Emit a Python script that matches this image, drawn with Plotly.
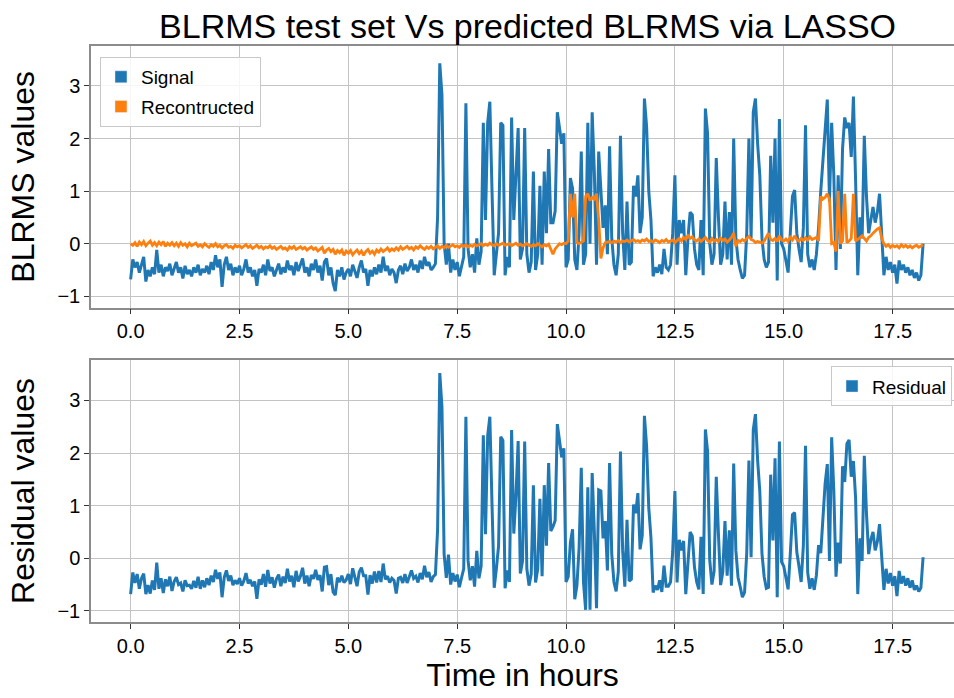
import numpy as np
import plotly.graph_objects as go

# time axis: one sample every 3 minutes (0.05 h)
hours = np.round(np.arange(365) * 0.05, 2)

signal = [
    -0.68, -0.30, -0.45, -0.35, -0.55, -0.40, -0.25, -0.72, -0.50, -0.62, -0.45, -0.58, -0.12, -0.55, -0.40, -0.62, -0.45, -0.52, -0.38, -0.60,
    -0.48, -0.35, -0.55, -0.45, -0.66, -0.42, -0.58, -0.50, -0.62, -0.45, -0.55, -0.40, -0.60, -0.48, -0.55, -0.42, -0.58, -0.35, -0.50, -0.22,
    -0.45, -0.30, -0.82, -0.40, -0.25, -0.50, -0.38, -0.60, -0.45, -0.55, -0.42, -0.60, -0.48, -0.30, -0.55, -0.45, -0.62, -0.50, -0.80, -0.48,
    -0.55, -0.40, -0.60, -0.30, -0.52, -0.45, -0.62, -0.50, -0.38, -0.58, -0.45, -0.55, -0.32, -0.50, -0.42, -0.60, -0.35, -0.52, -0.40, -0.28,
    -0.55, -0.45, -0.62, -0.38, -0.50, -0.30, -0.55, -0.42, -0.70, -0.35, -0.28, -0.60, -0.45, -0.75, -0.90, -0.50, -0.62, -0.45, -0.68, -0.55,
    -0.48, -0.62, -0.40, -0.55, -0.65, -0.45, -0.32, -0.55, -0.48, -0.80, -0.50, -0.62, -0.45, -0.58, -0.40, -0.55, -0.25, -0.52, -0.42, -0.60,
    -0.48, -0.55, -0.75, -0.50, -0.42, -0.58, -0.38, -0.52, -0.45, -0.30, -0.50, -0.40, -0.55, -0.32, -0.48, -0.25, -0.42, -0.35, -0.50, -0.45,
    -0.38, 0.50, 3.43, 2.83, 0.00, -0.40, 0.00, -0.55, -0.30, -0.50, -0.35, -0.62, -0.40, -0.25, 2.67, -0.10, -0.45, -0.20, -0.55, 0.10,
    -0.40, -0.15, 2.30, 0.45, 2.30, 2.70, 1.00, -0.60, -0.20, 0.20, 2.30, 2.25, -0.60, -0.25, -0.45, 2.40, 0.45, 1.20, 2.20, -0.30,
    -0.10, 2.20, -0.20, -0.55, -0.35, 1.37, -0.50, -0.20, 1.10, -0.40, 1.37, 0.20, 1.80, 0.40, 0.40, 0.62, 2.50, 2.20, 1.90, 2.10,
    -0.45, -0.30, 1.25, 1.05, -0.30, -0.50, 0.20, 1.75, -0.40, -0.20, 2.30, 0.00, 2.50, 1.36, -0.40, 1.75, 1.00, 0.30, 0.73, -0.20,
    1.85, 0.10, -0.40, -0.60, -0.20, 2.05, 0.20, -0.50, 0.80, -0.40, -0.35, 1.10, 0.90, 1.30, 0.20, 0.50, 2.76, 2.23, 1.00, 0.45,
    -0.62, -0.45, -0.55, -0.40, -0.58, -0.10, -0.45, -0.50, -0.40, 0.20, 1.30, -0.40, 0.45, 0.20, 0.45, -0.60, 0.10, 0.60, 0.55, -0.10,
    -0.40, -0.50, 0.45, -0.60, 2.57, 2.10, 0.00, -0.40, -0.20, 1.63, 0.50, -0.40, -0.20, 0.80, -0.30, 0.60, -0.40, 2.00, 0.10, -0.30,
    -0.50, -0.66, -0.60, 0.20, 2.00, 0.10, 2.50, 2.76, 1.90, 1.30, 0.10, -0.30, -0.45, -0.35, 1.67, 0.40, 2.00, -0.70, 2.37, 0.00,
    -0.10, -0.30, -0.55, 0.20, 0.90, 1.02, 0.20, -0.10, -0.35, 0.30, 2.25, -0.20, -0.45, -0.30, -0.50, -0.20, 0.30, 1.00, 1.65, 2.30,
    2.74, 0.80, 2.30, 1.30, -0.50, 1.30, -0.10, 1.80, 2.40, 2.20, 2.30, 1.65, 2.80, 1.20, -0.60, 0.50, 0.10, 2.05, 0.90, 0.20,
    0.50, 0.70, 0.40, 0.60, 0.95, 0.20, -0.60, -0.25, -0.50, -0.35, -0.55, -0.40, -0.76, -0.32, -0.50, -0.40, -0.55, -0.45, -0.60, -0.50,
    -0.65, -0.55, -0.70, -0.60, 0.00,
]

reconstructed = [
    0.00, -0.03, 0.02, -0.05, 0.03, -0.02, 0.04, -0.04, 0.01, 0.05, -0.03, 0.02, -0.04, 0.03, -0.02, 0.04, -0.05, 0.01, -0.03, 0.02,
    -0.04, 0.01, -0.05, 0.02, -0.03, 0.00, -0.06, 0.01, -0.04, -0.02, 0.01, -0.05, -0.02, -0.06, 0.00, -0.04, -0.07, -0.02, -0.05, 0.00,
    -0.06, -0.03, -0.08, -0.04, -0.02, -0.07, -0.05, -0.09, -0.03, -0.06, -0.04, -0.08, -0.05, -0.02, -0.07, -0.04, -0.09, -0.06, -0.03, -0.08,
    -0.05, -0.10, -0.06, -0.08, -0.04, -0.09, -0.06, -0.11, -0.07, -0.05, -0.10, -0.08, -0.12, -0.06, -0.09, -0.05, -0.11, -0.08, -0.06, -0.10,
    -0.07, -0.12, -0.09, -0.06, -0.11, -0.08, -0.14, -0.10, -0.07, -0.18, -0.12, -0.09, -0.15, -0.11, -0.20, -0.13, -0.17, -0.12, -0.22, -0.14,
    -0.18, -0.13, -0.21, -0.16, -0.12, -0.19, -0.14, -0.22, -0.15, -0.11, -0.18, -0.14, -0.20, -0.12, -0.16, -0.10, -0.15, -0.12, -0.08, -0.14,
    -0.10, -0.13, -0.08, -0.12, -0.06, -0.11, -0.08, -0.05, -0.10, -0.07, -0.12, -0.06, -0.09, -0.04, -0.08, -0.11, -0.06, -0.09, -0.05, -0.10,
    -0.07, -0.04, -0.09, -0.05, -0.08, -0.03, -0.07, -0.05, -0.02, -0.06, -0.04, -0.07, -0.03, -0.05, -0.02, -0.06, -0.03, -0.05, -0.01, -0.04,
    -0.02, 0.00, -0.04, -0.01, -0.03, 0.01, -0.02, -0.04, 0.00, -0.03, -0.01, 0.01, -0.03, -0.02, 0.00, -0.04, -0.02, 0.01, -0.03, -0.01,
    -0.04, -0.02, 0.00, -0.03, -0.05, -0.02, -0.04, 0.00, -0.03, -0.06, -0.02, -0.04, -0.01, -0.12, -0.20, -0.10, -0.05, 0.00, -0.02, 0.01,
    0.00, 0.05, 0.95, 0.50, 0.95, 0.02, 0.00, 0.03, 0.05, 0.90, 0.95, 0.82, 0.88, 0.85, 0.95, 0.45, -0.28, -0.08, 0.02, 0.03,
    0.04, 0.02, 0.05, 0.03, 0.06, 0.02, 0.05, 0.04, 0.07, 0.03, 0.05, 0.08, 0.04, 0.06, 0.03, 0.07, 0.05, 0.09, 0.04, 0.06,
    0.03, 0.07, 0.05, 0.02, 0.06, 0.04, 0.08, 0.03, 0.05, 0.07, 0.02, 0.06, 0.10, 0.05, 0.12, 0.08, 0.15, 0.10, 0.13, 0.07,
    0.05, 0.09, 0.04, 0.08, 0.12, 0.06, 0.03, 0.10, 0.05, 0.08, 0.04, 0.11, 0.06, 0.09, 0.03, 0.07, 0.12, 0.20, -0.05, 0.06,
    0.04, 0.08, 0.05, 0.10, 0.14, 0.08, 0.06, 0.02, 0.04, 0.03, 0.01, 0.05, 0.12, 0.20, 0.08, 0.06, 0.10, 0.04, 0.15, 0.07,
    0.05, 0.09, 0.04, 0.12, 0.07, 0.15, 0.08, 0.05, 0.10, 0.06, 0.11, 0.07, 0.13, 0.08, 0.10, 0.12, 0.05, 0.90, 0.85, 0.88,
    0.95, 0.85, 0.00, 0.02, -0.15, 1.00, 0.00, 0.05, 0.95, 0.02, 0.05, 0.10, 0.95, 0.05, 0.08, 0.12, 0.15, 0.10, 0.05, 0.12,
    0.15, 0.20, 0.25, 0.28, 0.30, 0.10, 0.00, -0.05, -0.02, -0.07, -0.03, -0.06, -0.04, -0.08, -0.02, -0.06, -0.03, -0.07, -0.04, -0.08,
    -0.05, -0.03, -0.07, -0.04, -0.02,
]

residual = [
    -0.68, -0.27, -0.47, -0.30, -0.58, -0.38, -0.29, -0.68, -0.51, -0.67, -0.42, -0.60, -0.08, -0.58, -0.38, -0.66, -0.40, -0.53, -0.35, -0.62,
    -0.44, -0.36, -0.50, -0.47, -0.63, -0.42, -0.52, -0.51, -0.58, -0.43, -0.56, -0.35, -0.58, -0.42, -0.55, -0.38, -0.51, -0.33, -0.45, -0.22,
    -0.39, -0.27, -0.74, -0.36, -0.23, -0.43, -0.33, -0.51, -0.42, -0.49, -0.38, -0.52, -0.43, -0.28, -0.48, -0.41, -0.53, -0.44, -0.77, -0.40,
    -0.50, -0.30, -0.54, -0.22, -0.48, -0.36, -0.56, -0.39, -0.31, -0.53, -0.35, -0.47, -0.20, -0.44, -0.33, -0.55, -0.24, -0.44, -0.34, -0.18,
    -0.48, -0.33, -0.53, -0.32, -0.39, -0.22, -0.41, -0.32, -0.63, -0.17, -0.16, -0.51, -0.30, -0.64, -0.70, -0.37, -0.45, -0.33, -0.46, -0.41,
    -0.30, -0.49, -0.19, -0.39, -0.53, -0.26, -0.18, -0.33, -0.33, -0.69, -0.32, -0.48, -0.25, -0.46, -0.24, -0.45, -0.10, -0.40, -0.34, -0.46,
    -0.38, -0.42, -0.67, -0.38, -0.36, -0.47, -0.30, -0.47, -0.35, -0.23, -0.38, -0.34, -0.46, -0.28, -0.40, -0.14, -0.36, -0.26, -0.45, -0.35,
    -0.31, 0.54, 3.52, 2.88, 0.08, -0.37, 0.07, -0.50, -0.28, -0.44, -0.31, -0.55, -0.37, -0.20, 2.69, -0.04, -0.42, -0.15, -0.54, 0.14,
    -0.38, -0.15, 2.34, 0.46, 2.33, 2.69, 1.02, -0.56, -0.20, 0.23, 2.31, 2.24, -0.57, -0.23, -0.45, 2.44, 0.47, 1.19, 2.23, -0.29,
    -0.06, 2.22, -0.20, -0.52, -0.30, 1.39, -0.46, -0.20, 1.13, -0.34, 1.39, 0.24, 1.81, 0.52, 0.60, 0.72, 2.55, 2.20, 1.92, 2.09,
    -0.45, -0.35, 0.30, 0.55, -0.78, -0.52, 0.20, 1.72, -0.45, -0.98, 1.35, -0.98, 1.62, 0.51, -0.95, 1.30, 1.28, 0.38, 0.71, -0.23,
    1.81, 0.08, -0.45, -0.63, -0.26, 2.03, 0.15, -0.54, 0.73, -0.43, -0.40, 1.02, 0.86, 1.24, 0.17, 0.43, 2.71, 2.14, 0.96, 0.39,
    -0.65, -0.52, -0.60, -0.42, -0.64, -0.14, -0.53, -0.53, -0.45, 0.13, 1.28, -0.46, 0.35, 0.15, 0.33, -0.68, -0.05, 0.50, 0.42, -0.17,
    -0.45, -0.59, 0.41, -0.68, 2.45, 2.04, -0.03, -0.50, -0.25, 1.55, 0.46, -0.51, -0.26, 0.71, -0.33, 0.53, -0.52, 1.80, 0.15, -0.36,
    -0.54, -0.74, -0.65, 0.10, 1.86, 0.02, 2.44, 2.74, 1.86, 1.27, 0.09, -0.35, -0.57, -0.55, 1.59, 0.34, 1.90, -0.74, 2.22, -0.07,
    -0.15, -0.39, -0.59, 0.08, 0.83, 0.87, 0.12, -0.15, -0.45, 0.24, 2.14, -0.27, -0.58, -0.38, -0.60, -0.32, 0.25, 0.10, 0.80, 1.42,
    1.79, -0.05, 2.30, 1.28, -0.35, 0.30, -0.10, 1.75, 1.45, 2.18, 2.25, 1.55, 1.85, 1.15, -0.68, 0.38, -0.05, 1.95, 0.85, 0.08,
    0.35, 0.50, 0.15, 0.32, 0.65, 0.10, -0.60, -0.20, -0.48, -0.28, -0.52, -0.34, -0.72, -0.24, -0.48, -0.34, -0.52, -0.38, -0.56, -0.42,
    -0.60, -0.52, -0.63, -0.56, 0.02,
]

assert len(signal) == len(reconstructed) == len(residual) == len(hours)

x_ticks = [0, 2.5, 5, 7.5, 10, 12.5, 15, 17.5]
y_ticks = [-1, 0, 1, 2, 3]

FONT = "Liberation Sans, Arial, sans-serif"
BLUE = "#1f77b4"
ORANGE = "#ff7f0e"
GRID = "#c4c4c4"
SPINE = "#8c8c8c"

fig = go.Figure()

# lines
fig.add_trace(go.Scatter(x=hours, y=signal, mode="lines", line=dict(color=BLUE, width=3),
                         showlegend=False, xaxis="x", yaxis="y"))
fig.add_trace(go.Scatter(x=hours, y=reconstructed, mode="lines", line=dict(color=ORANGE, width=2.8),
                         showlegend=False, xaxis="x", yaxis="y"))
fig.add_trace(go.Scatter(x=hours, y=residual, mode="lines", line=dict(color=BLUE, width=3),
                         showlegend=False, xaxis="x2", yaxis="y2"))

# legend patches (matplotlib style filled boxes)
fig.add_trace(go.Bar(x=[None], y=[None], name="Signal", marker_color=BLUE,
                     legend="legend", legendgroup="a", xaxis="x", yaxis="y"))
fig.add_trace(go.Bar(x=[None], y=[None], name="Recontructed", marker_color=ORANGE,
                     legend="legend", legendgroup="b", xaxis="x", yaxis="y"))
fig.add_trace(go.Bar(x=[None], y=[None], name="Residual", marker_color=BLUE,
                     legend="legend2", xaxis="x2", yaxis="y2"))

tick_font = dict(family=FONT, size=20, color="black")
x_common = dict(type="linear", range=[-0.91, 18.91], tickvals=x_ticks, tickformat=".1f",
                showgrid=True, gridcolor=GRID, gridwidth=1, zeroline=False,
                ticks="outside", ticklen=5, tickwidth=1.2, tickcolor="#333",
                showline=True, linecolor=SPINE, linewidth=1.5, mirror=True,
                tickfont=tick_font)
y_common = dict(type="linear", tickvals=y_ticks, showgrid=True, gridcolor=GRID, gridwidth=1,
                zeroline=False, ticks="outside", ticklen=5, tickwidth=1.2, tickcolor="#333",
                showline=True, linecolor=SPINE, linewidth=1.5, tickfont=tick_font)

legend_style = dict(bgcolor="rgba(255,255,255,0.85)", bordercolor="#c8c8c8", borderwidth=1,
                    font=dict(family=FONT, size=19, color="black"), tracegroupgap=2)

fig.update_layout(
    width=954, height=698,
    margin=dict(l=91, r=0, t=46, b=76),
    paper_bgcolor="white", plot_bgcolor="white",
    font=dict(family=FONT, color="black"),
    title=dict(text="BLRMS test set Vs predicted BLRMS via LASSO", x=0.553, xanchor="center",
               y=0.963, yanchor="middle", yref="container",
               font=dict(family=FONT, size=34, color="black")),
    xaxis=dict(domain=[0, 1], anchor="y", **x_common),
    yaxis=dict(domain=[0.5457, 1], anchor="x", range=[-1.217, 3.759],
               title=dict(text="BLRMS values", font=dict(family=FONT, size=32), standoff=13),
               **y_common),
    xaxis2=dict(domain=[0, 1], anchor="y2",
                title=dict(text="Time in hours", font=dict(family=FONT, size=32), standoff=5),
                **x_common),
    yaxis2=dict(domain=[0, 0.4549], anchor="x2", range=[-1.211, 3.77],
                title=dict(text="Residual values", font=dict(family=FONT, size=32), standoff=13),
                **y_common),
    legend=dict(x=0.0104, y=0.981, xanchor="left", yanchor="top", **legend_style),
    legend2=dict(x=0.9977, y=0.444, xanchor="right", yanchor="top", **legend_style),
    bargap=0,
)

# the page body has a default 8px margin; drop it so the figure sits at the window corner
fig.write_html("out.html", config={"displayModeBar": False},
               post_script="document.body.style.margin='0';")
